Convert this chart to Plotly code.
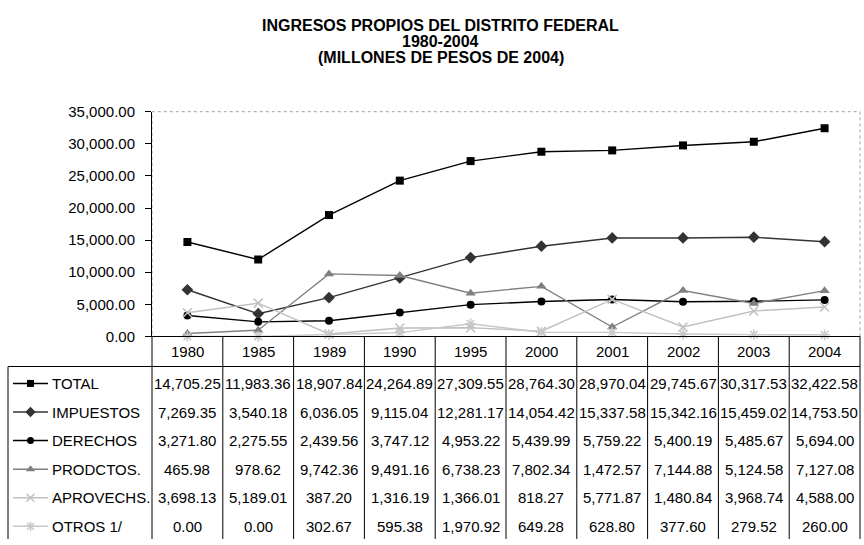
import plotly.graph_objects as go

# Ingresos propios del Distrito Federal, millones de pesos de 2004
years = ["1980", "1985", "1989", "1990", "1995", "2000", "2001", "2002", "2003", "2004"]
series_names = ["TOTAL", "IMPUESTOS", "DERECHOS", "PRODCTOS.", "APROVECHS.", "OTROS 1/"]

total = [14705.25, 11983.36, 18907.84, 24264.89, 27309.55, 28764.30, 28970.04, 29745.67, 30317.53, 32422.58]
impuestos = [7269.35, 3540.18, 6036.05, 9115.04, 12281.17, 14054.42, 15337.58, 15342.16, 15459.02, 14753.50]
derechos = [3271.80, 2275.55, 2439.56, 3747.12, 4953.22, 5439.99, 5759.22, 5400.19, 5485.67, 5694.00]
productos = [465.98, 978.62, 9742.36, 9491.16, 6738.23, 7802.34, 1472.57, 7144.88, 5124.58, 7127.08]
aprovechamientos = [3698.13, 5189.01, 387.20, 1316.19, 1366.01, 818.27, 5771.87, 1480.84, 3968.74, 4588.00]
otros = [0.00, 0.00, 302.67, 595.38, 1970.92, 649.28, 628.80, 377.60, 279.52, 260.00]

series_values = [total, impuestos, derechos, productos, aprovechamientos, otros]

y_ticks = [0, 5000, 10000, 15000, 20000, 25000, 30000, 35000]

# visual style of each series: (line colour, marker symbol, marker size, marker colour)
styles = [
    ("#000000", "square", 8, "#000000"),
    ("#333333", "diamond", 9, "#333333"),
    ("#000000", "circle", 8, "#000000"),
    ("#808080", "triangle-up", 9, "#808080"),
    ("#c0c0c0", "x-thin", 9, "#c0c0c0"),
    ("#c8c8c8", "asterisk", 9, "#c8c8c8"),
]

W, H = 864, 545
FONT = "Arial, Liberation Sans, sans-serif"
TXT = 15

# layout geometry in pixels
PLOT_L, PLOT_R = 152, 860
PLOT_T, PLOT_B = 106, 338
HEAD_B = 369
TABLE_L = 8
ROW0, ROW_STEP = 386.5, 29.5
COL_W = (PLOT_R - PLOT_L) / len(years)


def px(x):
    return x / W


def py(y):
    return 1 - y / H


fig = go.Figure()

for name, vals, (lc, sym, ms, mc) in zip(series_names, series_values, styles):
    is_open = sym in ("x-thin", "asterisk")
    fig.add_trace(go.Scatter(
        x=years, y=vals, name=name, mode="lines+markers",
        line=dict(color=lc, width=1.4),
        marker=dict(symbol=sym, size=ms, color=mc,
                    line=dict(color=mc, width=1.5 if is_open else 0)),
        showlegend=False, cliponaxis=False,
    ))

shapes = []
annotations = []

# dotted frame of the plot area
shapes.append(dict(type="rect", xref="paper", yref="paper",
                   x0=px(PLOT_L), x1=px(PLOT_R), y0=py(PLOT_B), y1=py(PLOT_T),
                   line=dict(color="#a0a0a0", width=1, dash="dot"), layer="below"))

# data table grid
for k in range(len(years) + 1):
    x = PLOT_L + k * COL_W
    shapes.append(dict(type="line", xref="paper", yref="paper",
                       x0=px(x), x1=px(x), y0=py(PLOT_B), y1=py(H + 2),
                       line=dict(color="#000000", width=1)))
shapes.append(dict(type="line", xref="paper", yref="paper",
                   x0=px(TABLE_L), x1=px(PLOT_R), y0=py(HEAD_B), y1=py(HEAD_B),
                   line=dict(color="#000000", width=1)))
shapes.append(dict(type="line", xref="paper", yref="paper",
                   x0=px(TABLE_L), x1=px(TABLE_L), y0=py(HEAD_B), y1=py(H + 2),
                   line=dict(color="#000000", width=1)))

# year header
for k, yr in enumerate(years):
    annotations.append(dict(x=px(PLOT_L + (k + 0.5) * COL_W), y=py(354),
                            xref="paper", yref="paper", text=yr, showarrow=False,
                            font=dict(family=FONT, size=TXT, color="#000000"),
                            xanchor="center", yanchor="middle"))

# table body: legend keys and values
for r, (name, vals, (lc, sym, ms, mc)) in enumerate(zip(series_names, series_values, styles)):
    ry = ROW0 + r * ROW_STEP
    shapes.append(dict(type="line", xref="paper", yref="paper",
                       x0=px(13), x1=px(48), y0=py(ry), y1=py(ry),
                       line=dict(color=lc, width=1.5)))
    is_open = sym in ("x-thin", "asterisk")
    fig.add_trace(go.Scatter(
        x=[30.5], y=[ry], xaxis="x2", yaxis="y2", mode="markers",
        marker=dict(symbol=sym, size=ms - 1, color=mc,
                    line=dict(color=mc, width=1.5 if is_open else 0)),
        showlegend=False, hoverinfo="skip",
    ))
    annotations.append(dict(x=px(50), y=py(ry), xref="paper", yref="paper",
                            text=name, showarrow=False,
                            font=dict(family=FONT, size=TXT, color="#000000"),
                            xanchor="left", yanchor="middle"))
    for k, v in enumerate(vals):
        annotations.append(dict(x=px(PLOT_L + (k + 0.5) * COL_W), y=py(ry),
                                xref="paper", yref="paper", text=f"{v:,.2f}",
                                showarrow=False,
                                font=dict(family=FONT, size=TXT, color="#000000"),
                                xanchor="center", yanchor="middle"))

# title
for text, ty in [("INGRESOS PROPIOS DEL DISTRITO FEDERAL", 17),
                 ("1980-2004", 33.5),
                 ("(MILLONES DE PESOS DE 2004)", 50)]:
    annotations.append(dict(x=px(441), y=py(ty), xref="paper", yref="paper",
                            text=f"<b>{text}</b>", showarrow=False,
                            font=dict(family=FONT, size=16, color="#000000"),
                            xanchor="center", yanchor="middle"))

fig.update_layout(
    width=W, height=H,
    margin=dict(l=0, r=0, t=0, b=0),
    paper_bgcolor="#ffffff", plot_bgcolor="rgba(0,0,0,0)",
    xaxis=dict(domain=[px(PLOT_L), px(PLOT_R)], type="category",
               range=[-0.5, len(years) - 0.5], showticklabels=False,
               showgrid=False, zeroline=False, showline=True,
               linecolor="#000000", linewidth=1, ticks=""),
    yaxis=dict(domain=[py(PLOT_B), py(PLOT_T)], range=[0, 35000],
               tickvals=y_ticks, tickformat=",.2f",
               showgrid=False, zeroline=False, showline=True,
               linecolor="#000000", linewidth=1,
               ticks="outside", ticklen=6, tickcolor="#000000",
               ticklabelstandoff=7,
               tickfont=dict(family=FONT, size=TXT, color="#000000")),
    xaxis2=dict(domain=[0, 1], range=[0, W], visible=False, fixedrange=True,
                anchor="y2"),
    yaxis2=dict(domain=[0, 1], range=[H, 0], visible=False, fixedrange=True,
                anchor="x2"),
    shapes=shapes,
    annotations=annotations,
)

fig.write_html("out.html")
